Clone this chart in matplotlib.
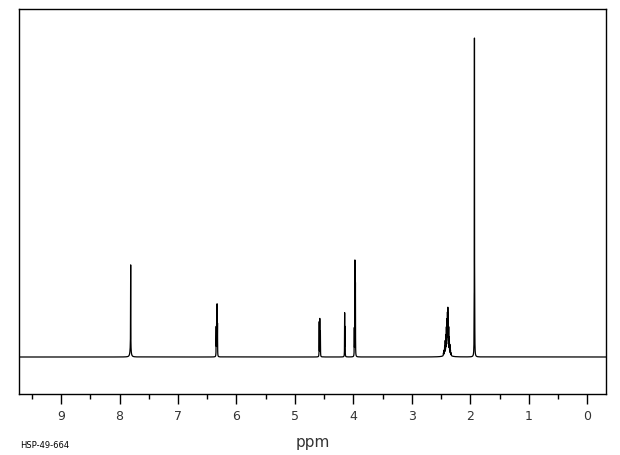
import matplotlib
matplotlib.use("Agg")
import matplotlib.pyplot as plt
import numpy as np

# line list: position (ppm), relative height, half width (ppm)
line_ppm = [7.810, 7.812,
            6.347, 6.340, 6.332, 6.325,
            4.585, 4.575, 4.565,
            4.150, 4.143,
            3.985, 3.975, 3.966,
            2.460, 2.450, 2.440, 2.430, 2.420, 2.410, 2.400, 2.392, 2.385,
            2.378, 2.370, 2.360, 2.350, 2.340, 2.330, 2.395,
            1.935, 1.930, 1.925]
line_height = [0.265, 0.030,
               0.090, 0.100, 0.160, 0.100,
               0.110, 0.120, 0.080,
               0.135, 0.090,
               0.085, 0.300, 0.230,
               0.008, 0.015, 0.025, 0.040, 0.055, 0.075, 0.095, 0.110, 0.125,
               0.100, 0.075, 0.050, 0.030, 0.015, 0.008, 0.012,
               0.110, 0.985, 0.100]
line_width = [0.0015, 0.010,
              0.0015, 0.0015, 0.0015, 0.0015,
              0.0015, 0.0015, 0.0015,
              0.0015, 0.0015,
              0.0015, 0.0015, 0.0015,
              0.002, 0.002, 0.002, 0.002, 0.002, 0.002, 0.002, 0.002, 0.002,
              0.002, 0.002, 0.002, 0.002, 0.002, 0.002, 0.040,
              0.0015, 0.0015, 0.0015]

ppm = np.linspace(-0.32, 9.72, 20000)
intensity = np.zeros_like(ppm)
for p, h, w in zip(line_ppm, line_height, line_width):
    intensity += h * w**2 / ((ppm - p)**2 + w**2)

fig = plt.figure(figsize=(6.2, 4.55), dpi=100)
ax = fig.add_axes([19/620, 61/455, 587/620, 385/455])

ax.plot(ppm, intensity, color='black', lw=0.9)

ax.set_xlim(9.72, -0.32)
ax.set_ylim(-0.116, 1.091)
ax.set_yticks([])
ax.set_xticks(np.arange(0, 10, 1))
ax.set_xticks(np.arange(0.5, 10, 1), minor=True)
ax.tick_params(axis='x', which='major', length=7.2, width=1, pad=4,
               labelsize=9, labelcolor='#333333')
ax.tick_params(axis='x', which='minor', length=3.6, width=1)
for s in ax.spines.values():
    s.set_linewidth(1)

fig.text(313/620, 1 - 443/455, 'ppm', fontsize=11, color='#333333',
         ha='center', va='center')
fig.text(20/620, 1 - 445/455, 'HSP-49-664', fontsize=6, va='center', ha='left')

fig.savefig('out.png', dpi=100)
